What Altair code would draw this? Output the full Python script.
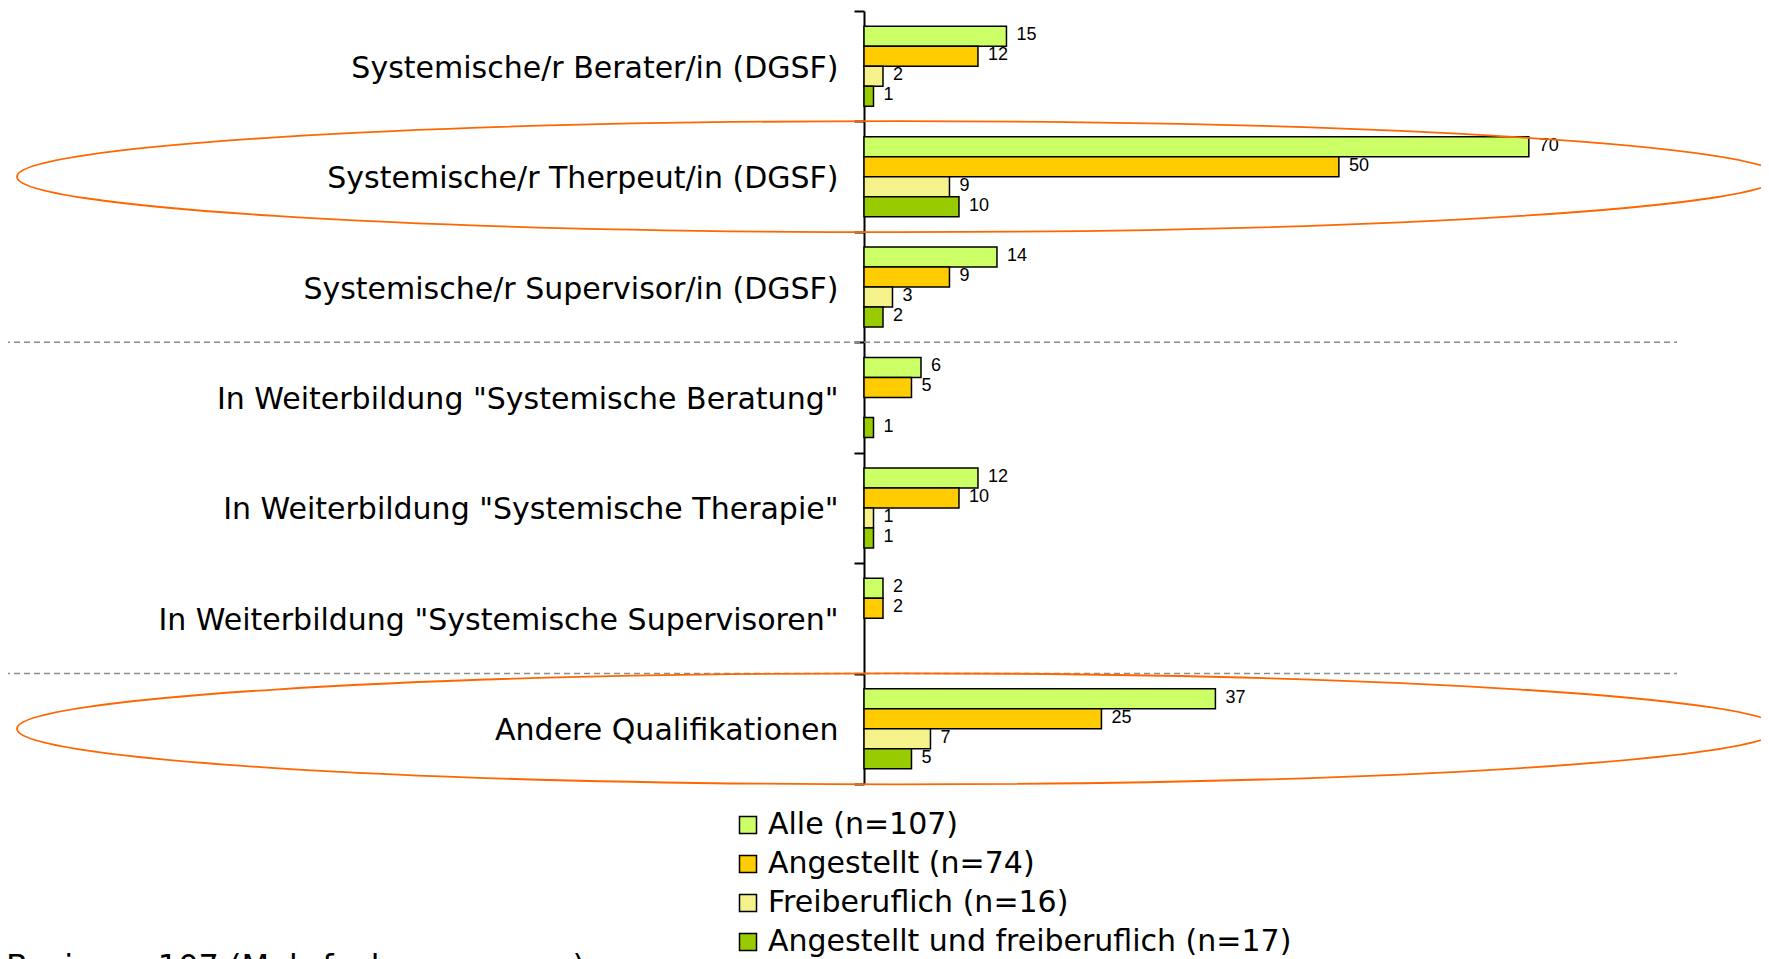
import altair as alt
import pandas as pd

categories = [
    "Systemische/r Berater/in (DGSF)",
    "Systemische/r Therpeut/in (DGSF)",
    "Systemische/r Supervisor/in (DGSF)",
    'In Weiterbildung "Systemische Beratung"',
    'In Weiterbildung "Systemische Therapie"',
    'In Weiterbildung "Systemische Supervisoren"',
    "Andere Qualifikationen",
]
series = [
    "Alle (n=107)",
    "Angestellt (n=74)",
    "Freiberuflich (n=16)",
    "Angestellt und freiberuflich (n=17)",
]
colors = ["#CCFF66", "#FFCC00", "#F5F28C", "#99CC00"]

alle = [15, 70, 14, 6, 12, 2, 37]
angestellt = [12, 50, 9, 5, 10, 2, 25]
freiberuflich = [2, 9, 3, 0, 1, 0, 7]
beides = [1, 10, 2, 1, 1, 0, 5]

separators = ['In Weiterbildung "Systemische Beratung"', "Andere Qualifikationen"]
highlighted = ["Systemische/r Therpeut/in (DGSF)", "Andere Qualifikationen"]
footnote = ["Basis: n=107 (Mehrfachnennungen)"]

rows = []
for i, c in enumerate(categories):
    for s, vals in zip(series, [alle, angestellt, freiberuflich, beides]):
        if vals[i] > 0:
            rows.append({"cat": c, "serie": s, "wert": vals[i]})
df = pd.DataFrame(rows)

y_axis = alt.Axis(
    title=None, labelFont="DejaVu Sans", labelFontSize=30, labelColor="black",
    labelPadding=16, labelLimit=1000, labelOverlap=False, labelOffset=2,
    tickBand="extent", tickSize=10, tickColor="black", tickWidth=2,
    domainColor="black", domainWidth=2, grid=False,
)
y_scale = alt.Scale(domain=categories, paddingInner=0, paddingOuter=0)


def y_enc(**kw):
    return alt.Y("cat:N", sort=categories, scale=y_scale, axis=y_axis, **kw)


x_enc = alt.X("wert:Q", scale=alt.Scale(domain=[0, 85.6], nice=False), axis=None)
yoff = alt.YOffset("serie:N", sort=series,
                   scale=alt.Scale(domain=series, paddingInner=0, paddingOuter=0.76))

base = alt.Chart(df)
bars = base.mark_bar(stroke="black", strokeWidth=1.5).encode(
    x=x_enc, y=y_enc(), yOffset=yoff,
    color=alt.Color(
        "serie:N", sort=series,
        scale=alt.Scale(domain=series, range=colors),
        legend=alt.Legend(
            orient="none", legendX=-131, legendY=799, title=None,
            symbolType="square", symbolSize=289, symbolStrokeColor="black",
            symbolStrokeWidth=1.5, labelFontSize=30, labelFont="DejaVu Sans",
            labelColor="black", rowPadding=9, labelOffset=5, labelLimit=1000,
            padding=0, direction="vertical",
        ),
    ),
)
labels = base.mark_text(
    align="left", baseline="middle", dx=10, dy=-1,
    font="Liberation Sans", fontSize=18, color="black",
).encode(x=x_enc, y=y_enc(), yOffset=yoff, text="wert:Q")

rules = alt.Chart(pd.DataFrame({"cat": separators})).mark_rule(
    strokeDash=[6, 4], color="#8C8C8C", strokeWidth=1.5
).encode(y=y_enc(bandPosition=0), x=alt.value(-870), x2=alt.value(813))

ELLIPSE = "M -1 0 A 1 0.063 0 1 1 1 0 A 1 0.063 0 1 1 -1 0 Z"
ellipses = alt.Chart(pd.DataFrame({"cat": highlighted})).mark_point(
    shape=ELLIPSE, size=1762 ** 2, filled=False, color="#FF6600",
    strokeWidth=1.8, opacity=1,
).encode(y=y_enc(), x=alt.value(34))

basis = alt.Chart(pd.DataFrame({"t": footnote})).mark_text(
    align="left", baseline="top", font="DejaVu Sans", fontSize=32, color="black"
).encode(x=alt.value(-858), y=alt.value(941), text="t:N")

chart = alt.layer(bars, labels, rules, ellipses, basis).properties(
    width=813, height=773,
    autosize=alt.AutoSizeParams(type="none"),
    padding={"left": 856, "top": 3, "right": 84, "bottom": 178},
).configure_view(stroke=None)

chart.save("out.html", embed_options={"renderer": "svg", "actions": False})
